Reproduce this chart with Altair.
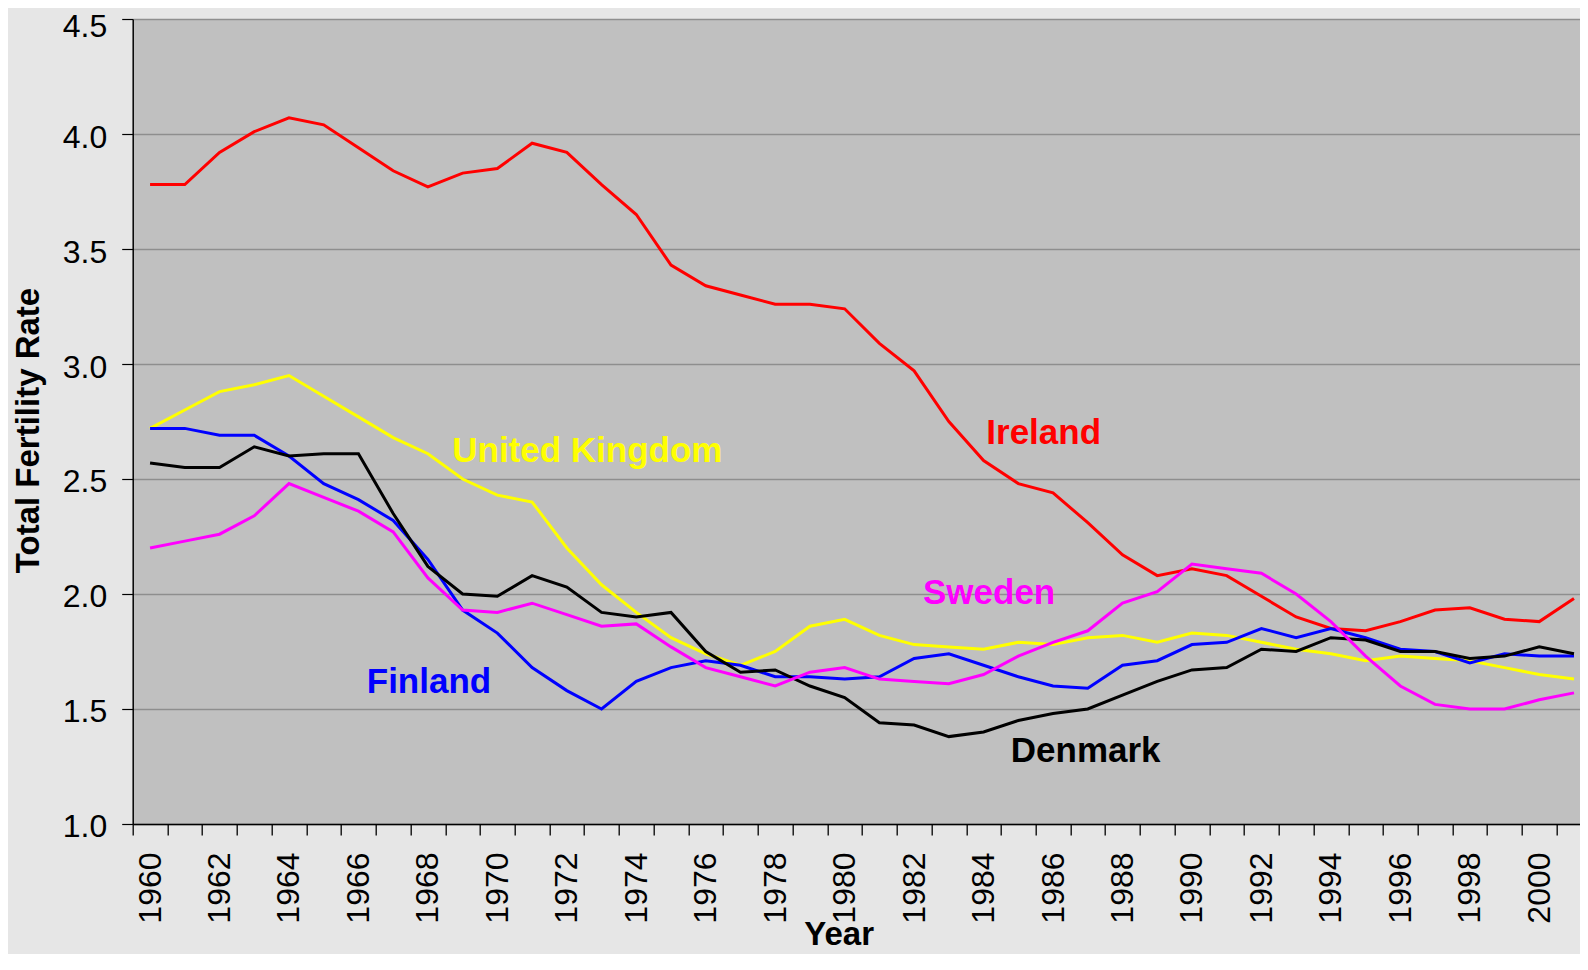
import altair as alt
import pandas as pd

# ---- data ----
years = list(range(1960, 2002))

ireland = [3.78, 3.78, 3.92, 4.01, 4.07, 4.04, 3.94, 3.84, 3.77, 3.83,
           3.85, 3.96, 3.92, 3.78, 3.65, 3.43, 3.34, 3.30, 3.26, 3.26,
           3.24, 3.09, 2.97, 2.75, 2.58, 2.48, 2.44, 2.31, 2.17, 2.08,
           2.11, 2.08, 1.99, 1.90, 1.85, 1.84, 1.88, 1.93, 1.94, 1.89,
           1.88, 1.98]
united_kingdom = [2.72, 2.80, 2.88, 2.91, 2.95, 2.86, 2.77, 2.68, 2.61, 2.50,
                  2.43, 2.40, 2.20, 2.04, 1.92, 1.81, 1.74, 1.69, 1.75, 1.86,
                  1.89, 1.82, 1.78, 1.77, 1.76, 1.79, 1.78, 1.81, 1.82, 1.79,
                  1.83, 1.82, 1.79, 1.76, 1.74, 1.71, 1.73, 1.72, 1.71, 1.68,
                  1.65, 1.63]
finland = [2.72, 2.72, 2.69, 2.69, 2.60, 2.48, 2.41, 2.32, 2.15, 1.93,
           1.83, 1.68, 1.58, 1.50, 1.62, 1.68, 1.71, 1.69, 1.64, 1.64,
           1.63, 1.64, 1.72, 1.74, 1.69, 1.64, 1.60, 1.59, 1.69, 1.71,
           1.78, 1.79, 1.85, 1.81, 1.85, 1.81, 1.76, 1.75, 1.70, 1.74,
           1.73, 1.73]
denmark = [2.57, 2.55, 2.55, 2.64, 2.60, 2.61, 2.61, 2.35, 2.12, 2.00,
           1.99, 2.08, 2.03, 1.92, 1.90, 1.92, 1.75, 1.66, 1.67, 1.60,
           1.55, 1.44, 1.43, 1.38, 1.40, 1.45, 1.48, 1.50, 1.56, 1.62,
           1.67, 1.68, 1.76, 1.75, 1.81, 1.80, 1.75, 1.75, 1.72, 1.73,
           1.77, 1.74]
sweden = [2.20, 2.23, 2.26, 2.34, 2.48, 2.42, 2.36, 2.27, 2.07, 1.93,
          1.92, 1.96, 1.91, 1.86, 1.87, 1.77, 1.68, 1.64, 1.60, 1.66,
          1.68, 1.63, 1.62, 1.61, 1.65, 1.73, 1.79, 1.84, 1.96, 2.01,
          2.13, 2.11, 2.09, 2.00, 1.88, 1.73, 1.60, 1.52, 1.50, 1.50,
          1.54, 1.57]

countries = ["Ireland", "United Kingdom", "Finland", "Denmark", "Sweden"]
colors = ["#FF0000", "#FFFF00", "#0000FF", "#000000", "#FF00FF"]
series = [ireland, united_kingdom, finland, denmark, sweden]

# in-chart series labels (position in data units)
label_names = ["Ireland", "United Kingdom", "Sweden", "Finland", "Denmark"]
label_years = [1985.73, 1972.59, 1984.16, 1968.03, 1986.94]
label_values = [2.654, 2.574, 1.957, 1.570, 1.270]

year_labels = list(range(1960, 2001, 2))
year_bounds = [1959.5 + k for k in range(42)]
rate_ticks = [1.0, 1.5, 2.0, 2.5, 3.0, 3.5, 4.0, 4.5]

# ---- tables ----
rows = []
for name, vals in zip(countries, series):
    for yr, v in zip(years, vals):
        rows.append({"Country": name, "Year": yr, "Rate": v})
df = pd.DataFrame(rows)
labels_df = pd.DataFrame({"Country": label_names, "Year": label_years, "Rate": label_values})

FONT = "Liberation Sans"
PAD_L, PAD_T, PAD_B = 124.7, 11, 130
W, H = 1447, 805
xs = alt.Scale(domain=[1959.5, 1959.5 + W / 34.73], nice=False, zero=False)
ys = alt.Scale(domain=[1.0, 4.5], nice=False, zero=False)
cs = alt.Scale(domain=countries, range=colors)

y_axis = alt.Axis(
    values=rate_ticks, format=".1f", labelFont=FONT, labelFontSize=32,
    labelColor="black", labelPadding=15, labelBaseline="alphabetic",
    labelOffset={"condition": {"test": "datum.value >= 4.5", "value": 17}, "value": 13},
    labelFlush=False, labelOverlap=False,
    tickSize=11, tickColor="black", tickWidth=1.2,
    domainColor="black", domainWidth=1.5,
    grid=True, gridColor="#8E8E8E", gridWidth=1.3,
    title="Total Fertility Rate", titleFont=FONT, titleFontSize=33,
    titleFontWeight="bold", titleColor="black", titleAngle=270,
    titleX=-94, titleY=411, titleBaseline="alphabetic", titleAlign="center",
)

x_axis_labels = alt.Axis(
    orient="bottom", values=year_labels, format="d", labelAngle=270,
    labelFont=FONT, labelFontSize=32, labelColor="black", labelPadding=17,
    labelFlush=False, labelOverlap=False,
    tickSize=11, tickOpacity=0, domain=False, grid=False,
    title="Year", titleFont=FONT, titleFontSize=33, titleFontWeight="bold",
    titleColor="black", titleX=706, titleY=121, titleBaseline="alphabetic",
    titleAlign="center",
)

x_axis_ticks = alt.Axis(
    orient="bottom", values=year_bounds, labels=False,
    tickSize=11, tickColor="black", tickWidth=1.3,
    domain=True, domainColor="black", domainWidth=1.5, grid=False, title="",
)

lines = alt.Chart(df).mark_line(strokeWidth=3).encode(
    x=alt.X("Year:Q", scale=xs, axis=x_axis_labels),
    y=alt.Y("Rate:Q", scale=ys, axis=y_axis),
    color=alt.Color("Country:N", scale=cs, legend=None),
)

texts = alt.Chart(labels_df).mark_text(
    font=FONT, fontSize=35, fontWeight="bold", align="center", baseline="alphabetic"
).encode(
    x=alt.X("Year:Q", scale=xs, axis=x_axis_ticks),
    y=alt.Y("Rate:Q", scale=ys, axis=None),
    color=alt.Color("Country:N", scale=cs, legend=None),
    text="Country:N",
)

chart = (
    alt.layer(lines, texts)
    .resolve_axis(x="independent", y="independent")
    .properties(
        width=W, height=H,
        background="#E6E6E6",
        padding={"left": PAD_L, "top": PAD_T, "right": 0, "bottom": PAD_B},
        autosize=alt.AutoSizeParams(type="none"),
    )
    .configure_view(fill="#C0C0C0", stroke="transparent")
)

chart.save("out.html", embed_options={"renderer": "svg", "actions": False})
